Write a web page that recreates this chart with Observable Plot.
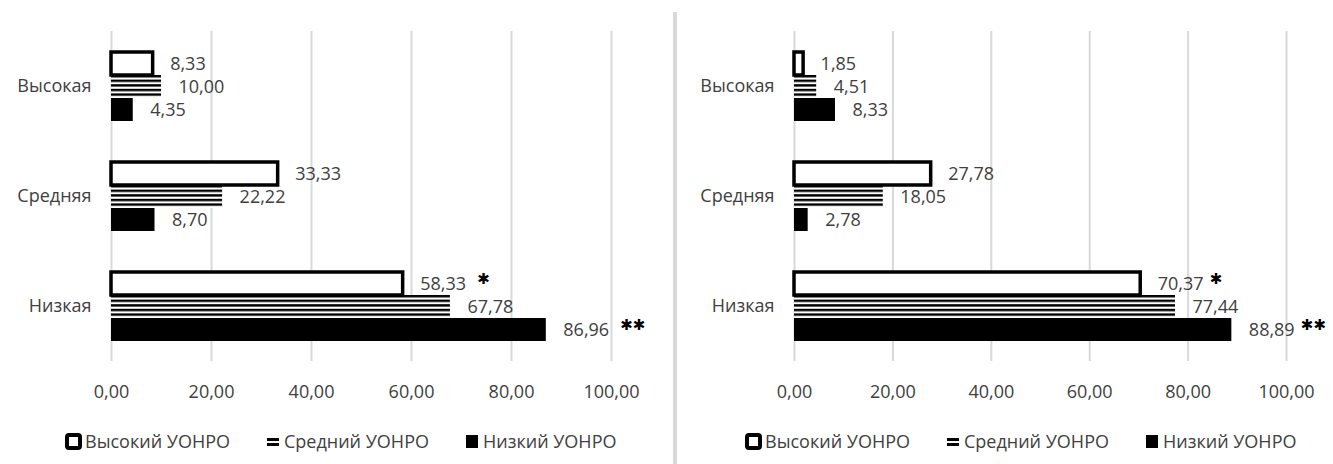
<!DOCTYPE html>
<html lang="ru">
<head>
<meta charset="utf-8">
<title>УОНРО</title>
<script src="https://cdn.jsdelivr.net/npm/d3@7"></script>
<script src="https://cdn.jsdelivr.net/npm/@observablehq/plot@0.6"></script>
<style>
  html, body { margin: 0; padding: 0; background: #fff; }
  #page { position: relative; width: 1333px; height: 464px; overflow: hidden; background: #fff;
          font-family: "Open Sans", sans-serif; color: #404040; }
  .panel { position: absolute; top: 0; }
  .divider { position: absolute; left: 673px; top: 12px; width: 4px; height: 452px; background: #d9d9d9; }
  .legend { position: absolute; top: 428px; display: flex; align-items: center; gap: 34px; font-size: 18px; line-height: 27px; }
  .legend .item { display: flex; align-items: center; gap: 3px; white-space: nowrap; }
  .legend svg { display: block; }
</style>
</head>
<body>
<svg width="0" height="0" style="position:absolute">
  <defs>
    <!-- horizontal line fill for the middle series: five black lines per bar -->
    <pattern id="stripes" patternUnits="objectBoundingBox" patternContentUnits="objectBoundingBox" width="1" height="0.2">
      <rect x="0" y="0" width="1" height="0.2" fill="#fff"></rect>
      <rect x="0" y="0" width="1" height="0.105" fill="#000"></rect>
    </pattern>
  </defs>
</svg>
<div id="page">
  <div class="panel" id="left" style="left:0px"></div>
  <div class="divider"></div>
  <div class="panel" id="right" style="left:678px"></div>
  <div class="legend" id="legendLeft" style="left:65px"></div>
  <div class="legend" id="legendRight" style="left:745px"></div>
</div>
<script>
// Levels (rows) and groups (bars within each row)
const categories = ["Высокая", "Средняя", "Низкая"];
const series = ["Высокий УОНРО", "Средний УОНРО", "Низкий УОНРО"];
const xTicks = [0, 20, 40, 60, 80, 100];

// Left panel, % by level
const leftHigh = [8.33, 33.33, 58.33];
const leftMid = [10.00, 22.22, 67.78];
const leftLow = [4.35, 8.70, 86.96];

// Right panel, % by level
const rightHigh = [1.85, 27.78, 70.37];
const rightMid = [4.51, 18.05, 77.44];
const rightLow = [8.33, 2.78, 88.89];

// Significance marks attached to the value labels
const highStars = ["", "", "✱"];
const midStars = ["", "", ""];
const lowStars = ["", "", "✱✱"];

const fmt = v => d3.format(".2f")(v).replace(".", ",");

function buildRows(high, mid, low) {
  const rows = [];
  const groups = [[high, highStars], [mid, midStars], [low, lowStars]];
  categories.forEach((c, i) => {
    groups.forEach(([vals, stars], j) => {
      rows.push({category: c, series: series[j], value: vals[i], star: stars[i]});
    });
  });
  return rows;
}

function panel({high, mid, low, width, marginLeft, marginRight, starDx}) {
  const rows = buildRows(high, mid, low);
  const pos = {x: "value", y: "series"};
  return Plot.plot({
    width,
    height: 410,
    marginTop: 31,
    marginBottom: 49,
    marginLeft,
    marginRight,
    style: {fontFamily: "'Open Sans', sans-serif", fontSize: "18px", color: "#404040", background: "white"},
    facet: {data: rows, y: "category"},
    fy: {domain: categories, axis: "left", label: null, tickSize: 0, tickPadding: 20, padding: 0},
    x: {domain: [0, 100], ticks: xTicks, tickFormat: fmt, tickSize: 0, tickPadding: 24, label: null},
    y: {domain: series, axis: null, paddingInner: 0, paddingOuter: 0.857},
    marks: [
      Plot.ruleX(xTicks, {stroke: "#d9d9d9", strokeWidth: 2}),
      Plot.barX(rows, {...pos, filter: d => d.series === series[1], fill: "url(#stripes)"}),
      Plot.barX(rows, {...pos, filter: d => d.series === series[0], fill: "white", stroke: "black", strokeWidth: 3.5}),
      Plot.barX(rows, {...pos, filter: d => d.series === series[2], fill: "black"}),
      Plot.text(rows, {...pos, text: d => fmt(d.value), textAnchor: "start", dx: 17, fill: "#404040"}),
      Plot.text(rows, {...pos, filter: d => d.star !== "", text: "star", textAnchor: "start", dx: starDx, dy: -5,
        fill: "black", fontSize: 15, fontFamily: "DejaVu Sans"})
    ]
  });
}

document.getElementById("left").append(panel({
  high: leftHigh, mid: leftMid, low: leftLow,
  width: 673, marginLeft: 111, marginRight: 62, starDx: 74
}));
document.getElementById("right").append(panel({
  high: rightHigh, mid: rightMid, low: rightLow,
  width: 655, marginLeft: 116, marginRight: 47, starDx: 69
}));

// Legend swatches
function swatch(i) {
  const ns = "http://www.w3.org/2000/svg";
  const svg = document.createElementNS(ns, "svg");
  svg.setAttribute("width", 17);
  svg.setAttribute("height", 17);
  const add = (attrs) => {
    const r = document.createElementNS(ns, "rect");
    for (const [k, v] of Object.entries(attrs)) r.setAttribute(k, v);
    svg.append(r);
  };
  if (i === 0) add({x: 2, y: 2, width: 13, height: 13, rx: 2, fill: "white", stroke: "black", "stroke-width": 4});
  else if (i === 1) { add({x: 3, y: 5, width: 12, height: 3, fill: "black"}); add({x: 3, y: 10, width: 12, height: 3, fill: "black"}); }
  else add({x: 3, y: 2, width: 12, height: 13, fill: "black"});
  return svg;
}
for (const id of ["legendLeft", "legendRight"]) {
  const box = document.getElementById(id);
  series.forEach((s, i) => {
    const item = document.createElement("div");
    item.className = "item";
    const label = document.createElement("span");
    label.textContent = s;
    item.append(swatch(i), label);
    box.append(item);
  });
}
</script>
</body>
</html>
